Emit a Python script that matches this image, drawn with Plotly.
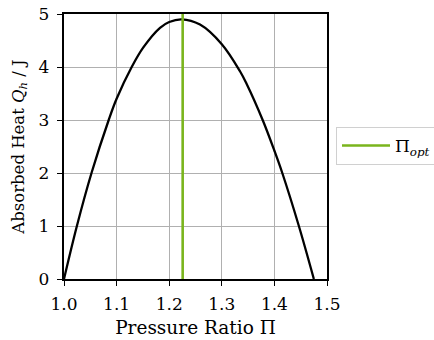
import plotly.graph_objects as go

# Data
pressure_ratio = [1.0, 1.0245, 1.0523, 1.085, 1.1, 1.1287, 1.1508, 1.1825, 1.2, 1.2237,
                  1.2586, 1.3, 1.3346, 1.3473, 1.3777, 1.4, 1.415, 1.4465, 1.475]
absorbed_heat = [0.0, 1.0, 2.0, 3.0, 3.40, 4.0, 4.37, 4.74, 4.85, 4.90,
                 4.80, 4.43, 3.92, 3.68, 3.0, 2.42, 2.0, 1.0, 0.0]
pi_opt = 1.2256
pi_opt_span = [0, 5]

x_ticks = [1.0, 1.1, 1.2, 1.3, 1.4, 1.5]
y_ticks = [0, 1, 2, 3, 4, 5]

FONT = "DejaVu Serif"

fig = go.Figure()
fig.add_trace(go.Scatter(x=pressure_ratio, y=absorbed_heat, mode="lines",
                         line=dict(color="black", width=2.3, shape="spline", smoothing=1.0),
                         showlegend=False, hoverinfo="skip"))
fig.add_trace(go.Scatter(x=[pi_opt, pi_opt], y=pi_opt_span, mode="lines",
                         line=dict(color="#7ab51d", width=2.6),
                         name="Π<sub><i>opt</i></sub>"))

axis_common = dict(showline=True, linecolor="black", linewidth=2.3, mirror=True,
                   ticks="outside", ticklen=5, tickwidth=1, tickcolor="black",
                   showgrid=True, gridcolor="#b0b0b0", gridwidth=1.1, zeroline=False,
                   automargin=False,
                   tickfont=dict(family=FONT, size=17, color="black"))
fig.update_layout(
    width=434, height=340,
    margin=dict(l=64, r=107, t=14, b=61, autoexpand=False),
    plot_bgcolor="white", paper_bgcolor="white",
    font=dict(family=FONT, size=16, color="black"),
    xaxis=dict(range=[1.0, 1.5], tickvals=x_ticks, ticktext=[f"{v:.1f}" for v in x_ticks],
               ticklabelstandoff=3,
               title=dict(text="Pressure Ratio Π", font=dict(family=FONT, size=18.5), standoff=9),
               **axis_common),
    yaxis=dict(range=[0, 5], tickvals=y_ticks, ticklabelstandoff=4,
               title=dict(text="Absorbed Heat <i>Q<sub>h</sub></i> / J",
                          font=dict(family=FONT, size=16.5), standoff=10),
               **axis_common),
    legend=dict(xref="container", yref="container", x=336 / 434, y=1 - 146 / 340,
                xanchor="left", yanchor="middle", itemwidth=48,
                bordercolor="#d0d0d0", borderwidth=1, bgcolor="white",
                font=dict(family=FONT, size=17, color="black")),
)
fig.write_html("out.html", config={"displayModeBar": False},
               post_script="document.body.style.margin='0';")
